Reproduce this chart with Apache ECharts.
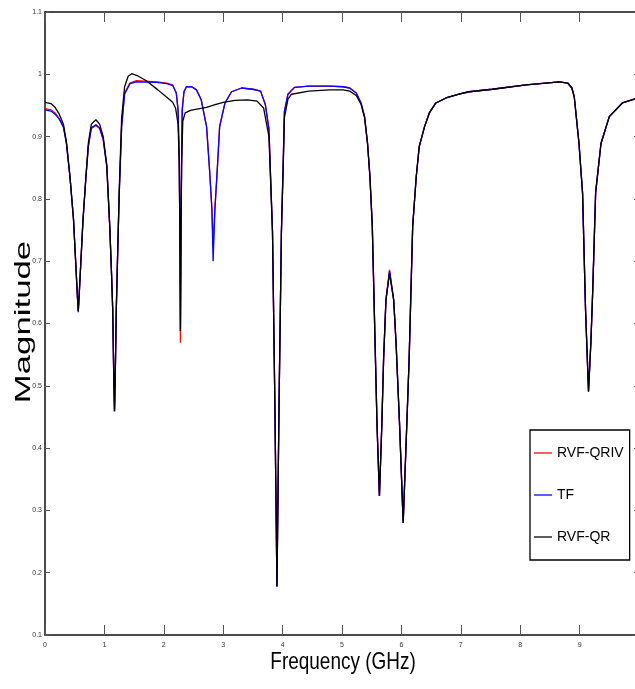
<!DOCTYPE html>
<html lang="en">
<head>
    <meta charset="UTF-8">
    <title>Magnitude</title>
    <script src="https://cdn.jsdelivr.net/npm/echarts@6/dist/echarts.min.js"></script>
    <style>
        html, body { margin: 0; padding: 0; overflow: hidden; background: #fff; }
    </style>
</head>
<body>

<div id="chart" style="width:645px;height:689px;"></div>

<script>

    // frequency grid (GHz) shared by RVF-QRIV and TF
    var freqFit = [0, 0.1, 0.17, 0.24, 0.31, 0.36, 0.42, 0.48, 0.52, 0.545, 0.56, 0.575, 0.6, 0.64, 0.69, 0.73, 0.78, 0.857, 0.92, 0.98,
        1.04, 1.09, 1.12, 1.14, 1.16, 1.17, 1.18, 1.2, 1.225, 1.25, 1.29, 1.34, 1.43, 1.54, 1.88, 2.05, 2.15, 2.21, 2.24, 2.26,
        2.27, 2.28, 2.29, 2.3, 2.31, 2.34, 2.38, 2.47, 2.55, 2.63, 2.72, 2.77, 2.81, 2.83, 2.86, 2.9, 2.94, 3.03, 3.14, 3.31,
        3.5, 3.63, 3.71, 3.77, 3.83, 3.87, 3.905, 3.94, 3.98, 4.01, 4.03, 4.09, 4.2, 4.44, 4.79, 5.02, 5.13, 5.24, 5.32, 5.38,
        5.43, 5.47, 5.51, 5.55, 5.59, 5.63, 5.67, 5.7, 5.74, 5.8, 5.87, 5.91, 5.97, 6.03, 6.09, 6.13, 6.19, 6.25, 6.3, 6.39,
        6.47, 6.58, 6.75, 6.97, 7.14, 7.53, 8.1, 8.66, 8.8, 8.87, 8.91, 8.99, 9.05, 9.1, 9.15, 9.19, 9.22, 9.27, 9.36, 9.5,
        9.72, 9.92, 10];

    var magRvfQriv = [0.945, 0.943, 0.938, 0.929, 0.916, 0.89, 0.836, 0.767, 0.692, 0.645, 0.62, 0.645, 0.692, 0.767, 0.836, 0.884, 0.913, 0.918, 0.913, 0.895,
        0.852, 0.756, 0.68, 0.622, 0.5, 0.459, 0.5, 0.622, 0.72, 0.809, 0.916, 0.97, 0.986, 0.99, 0.988, 0.986, 0.983, 0.97, 0.943, 0.863,
        0.75, 0.569, 0.75, 0.863, 0.943, 0.972, 0.98, 0.98, 0.975, 0.959, 0.916, 0.847, 0.783, 0.724, 0.783, 0.847, 0.916, 0.954, 0.972, 0.978,
        0.976, 0.973, 0.951, 0.912, 0.747, 0.47, 0.178, 0.47, 0.747, 0.857, 0.94, 0.968, 0.979, 0.981, 0.981, 0.98, 0.978, 0.97, 0.954, 0.932,
        0.889, 0.836, 0.756, 0.596, 0.436, 0.323, 0.436, 0.542, 0.638, 0.686, 0.638, 0.569, 0.436, 0.28, 0.436, 0.542, 0.756, 0.836, 0.884, 0.916,
        0.938, 0.954, 0.962, 0.968, 0.972, 0.976, 0.983, 0.988, 0.986, 0.978, 0.964, 0.889, 0.809, 0.622, 0.491, 0.57, 0.65, 0.81, 0.889, 0.932,
        0.954, 0.96, 0.962];

    var magTf = [0.943, 0.941, 0.936, 0.928, 0.915, 0.89, 0.836, 0.767, 0.692, 0.645, 0.618, 0.645, 0.692, 0.767, 0.836, 0.885, 0.914, 0.919, 0.914, 0.896,
        0.852, 0.756, 0.68, 0.622, 0.5, 0.459, 0.5, 0.622, 0.72, 0.809, 0.915, 0.968, 0.985, 0.988, 0.987, 0.985, 0.982, 0.97, 0.943, 0.863,
        0.75, 0.588, 0.75, 0.863, 0.943, 0.972, 0.98, 0.98, 0.975, 0.959, 0.916, 0.847, 0.783, 0.7, 0.783, 0.847, 0.916, 0.954, 0.972, 0.978,
        0.976, 0.973, 0.951, 0.912, 0.747, 0.47, 0.178, 0.47, 0.747, 0.857, 0.94, 0.968, 0.979, 0.981, 0.981, 0.98, 0.978, 0.97, 0.954, 0.932,
        0.889, 0.836, 0.756, 0.596, 0.436, 0.323, 0.436, 0.542, 0.638, 0.684, 0.638, 0.569, 0.436, 0.28, 0.436, 0.542, 0.756, 0.836, 0.884, 0.916,
        0.938, 0.954, 0.962, 0.968, 0.972, 0.976, 0.983, 0.988, 0.986, 0.978, 0.964, 0.889, 0.809, 0.622, 0.491, 0.57, 0.65, 0.81, 0.889, 0.932,
        0.954, 0.96, 0.962];

    // RVF-QR has its own grid
    var freqQr = [0, 0.1, 0.17, 0.24, 0.31, 0.36, 0.42, 0.48, 0.52, 0.545, 0.56, 0.575, 0.6, 0.64, 0.69, 0.73, 0.78, 0.857, 0.92, 0.98,
        1.04, 1.09, 1.12, 1.14, 1.16, 1.17, 1.18, 1.2, 1.225, 1.25, 1.29, 1.34, 1.4, 1.46, 1.55, 1.7, 1.9, 2.05, 2.15, 2.2,
        2.24, 2.26, 2.27, 2.28, 2.29, 2.3, 2.32, 2.36, 2.45, 2.6, 2.72, 2.85, 3, 3.2, 3.41, 3.57, 3.68, 3.77, 3.83, 3.87,
        3.905, 3.94, 3.98, 4.01, 4.03, 4.09, 4.15, 4.44, 4.79, 5.02, 5.13, 5.24, 5.32, 5.38, 5.43, 5.47, 5.51, 5.55, 5.59, 5.63,
        5.67, 5.7, 5.74, 5.8, 5.87, 5.91, 5.97, 6.03, 6.09, 6.13, 6.19, 6.25, 6.3, 6.39, 6.47, 6.58, 6.75, 6.97, 7.14, 7.53,
        8.1, 8.66, 8.8, 8.87, 8.91, 8.99, 9.05, 9.1, 9.15, 9.19, 9.22, 9.27, 9.36, 9.5, 9.72, 9.92, 10];

    var magQr = [0.955, 0.953, 0.947, 0.936, 0.92, 0.892, 0.836, 0.767, 0.692, 0.645, 0.62, 0.645, 0.692, 0.767, 0.838, 0.89, 0.92, 0.927, 0.92, 0.9,
        0.855, 0.756, 0.68, 0.622, 0.5, 0.459, 0.5, 0.622, 0.72, 0.815, 0.93, 0.98, 0.997, 1.001, 0.998, 0.99, 0.975, 0.963, 0.955, 0.945,
        0.92, 0.86, 0.75, 0.588, 0.75, 0.86, 0.925, 0.938, 0.942, 0.945, 0.947, 0.951, 0.955, 0.958, 0.959, 0.957, 0.946, 0.9, 0.747, 0.47,
        0.178, 0.47, 0.747, 0.85, 0.93, 0.96, 0.968, 0.973, 0.975, 0.975, 0.973, 0.966, 0.952, 0.93, 0.889, 0.836, 0.756, 0.596, 0.436, 0.323,
        0.436, 0.542, 0.638, 0.68, 0.638, 0.569, 0.436, 0.28, 0.436, 0.542, 0.756, 0.836, 0.884, 0.916, 0.938, 0.954, 0.962, 0.968, 0.972, 0.976,
        0.983, 0.988, 0.986, 0.978, 0.964, 0.889, 0.809, 0.622, 0.491, 0.57, 0.65, 0.81, 0.889, 0.932, 0.954, 0.96, 0.962];

    var seriesNames = ['RVF-QRIV', 'TF', 'RVF-QR'];
    var seriesColors = ['#ff0000', '#0000ff', '#000000'];

    function pairs(xs, ys) {
        var out = [];
        for (var i = 0; i < xs.length; i++) {
            out.push([xs[i], ys[i]]);
        }
        return out;
    }

    var seriesData = [pairs(freqFit, magRvfQriv), pairs(freqFit, magTf), pairs(freqQr, magQr)];

    var sans = "'Liberation Sans', Arial, sans-serif";
    // flat bar used as legend sample so no marker circle is drawn
    var lineIcon = 'path://M0,0L100,0L100,7L0,7Z';

    var myChart = echarts.init(document.getElementById('chart'));

    var series = [];
    var legendData = [];
    for (var s = 0; s < seriesNames.length; s++) {
        series.push({
            name: seriesNames[s],
            type: 'line',
            data: seriesData[s],
            symbol: 'none',
            showSymbol: false,
            z: 2 + s,
            lineStyle: {color: seriesColors[s], width: 1.3},
            itemStyle: {color: seriesColors[s]}
        });
        legendData.push({name: seriesNames[s], icon: lineIcon});
    }

    var option = {
        animation: false,
        backgroundColor: '#fff',
        grid: {left: 45, right: 6, top: 12, bottom: 54},
        legend: {
            orient: 'vertical',
            left: 530,
            top: 430,
            data: legendData,
            itemWidth: 18,
            itemHeight: 14,
            itemGap: 28,
            symbolKeepAspect: true,
            padding: [16, 6, 16, 4],
            borderColor: '#000',
            borderWidth: 1.3,
            backgroundColor: '#fff',
            textStyle: {fontFamily: sans, fontSize: 14, color: '#000'}
        },
        xAxis: [
            {
                type: 'value',
                position: 'bottom',
                min: 0, max: 10, interval: 1,
                axisLine: {onZero: false, lineStyle: {color: '#111', width: 1.5}},
                axisTick: {inside: true, length: 10, lineStyle: {color: '#555'}},
                axisLabel: {fontFamily: sans, fontSize: 7, color: '#333', margin: 7, showMaxLabel: false},
                splitLine: {show: false}
            },
            {
                type: 'value',
                position: 'top',
                min: 0, max: 10, interval: 1,
                axisLine: {onZero: false, lineStyle: {color: '#111', width: 1.5}},
                axisTick: {inside: true, length: 10, lineStyle: {color: '#555'}},
                axisLabel: {show: false},
                splitLine: {show: false}
            }
        ],
        yAxis: [
            {
                type: 'value',
                position: 'left',
                min: 0.1, max: 1.1, interval: 0.1,
                axisLine: {onZero: false, lineStyle: {color: '#111', width: 1.5}},
                axisTick: {inside: true, length: 5, lineStyle: {color: '#555'}},
                axisLabel: {fontFamily: sans, fontSize: 7, color: '#333', margin: 3},
                splitLine: {show: false}
            },
            {
                type: 'value',
                position: 'right',
                min: 0.1, max: 1.1, interval: 0.1,
                axisLine: {onZero: false, lineStyle: {color: '#111', width: 1.5}},
                axisTick: {inside: true, length: 5, lineStyle: {color: '#555'}},
                axisLabel: {show: false},
                splitLine: {show: false}
            }
        ],
        graphic: [
            {
                // x axis title, narrowed like the original figure
                type: 'text',
                x: 343,
                y: 662,
                scaleX: 0.79,
                style: {
                    text: 'Frequency (GHz)',
                    fontFamily: sans,
                    fontSize: 24,
                    fill: '#000',
                    align: 'center',
                    verticalAlign: 'middle'
                }
            },
            {
                // y axis title, stretched like the original figure
                type: 'text',
                x: 24,
                y: 322,
                rotation: Math.PI / 2,
                scaleX: 1.58,
                style: {
                    text: 'Magnitude',
                    fontFamily: sans,
                    fontSize: 22,
                    fill: '#000',
                    align: 'center',
                    verticalAlign: 'middle'
                }
            }
        ],
        series: series
    };
    myChart.setOption(option);

</script>

</body>
</html>
